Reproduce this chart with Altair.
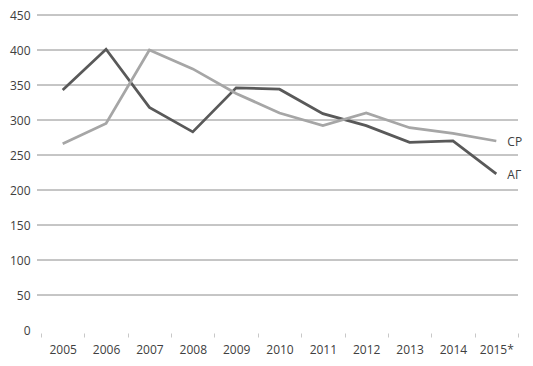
import altair as alt
import pandas as pd

years = ["2005", "2006", "2007", "2008", "2009", "2010", "2011", "2012", "2013", "2014", "2015*"]
ag = [343, 401, 318, 283, 346, 344, 309, 292, 268, 270, 223]
sr = [266, 295, 400, 373, 338, 310, 292, 310, 289, 281, 270]
series_names = ["АГ", "СР"]
series_colors = ["#595959", "#a6a6a6"]
y_ticks = [0, 50, 100, 150, 200, 250, 300, 350, 400, 450]
grid_values = [50, 100, 150, 200, 250, 300, 350, 400, 450]

rows = []
for i, y in enumerate(years):
    rows.append({"year": y, "series": "АГ", "value": ag[i]})
    rows.append({"year": y, "series": "СР", "value": sr[i]})
df = pd.DataFrame(rows)
last = df[df["year"] == years[-1]]
grid_df = pd.DataFrame({"value": grid_values})

yscale = alt.Scale(domain=[0, 450], nice=False)
xaxis = alt.Axis(labelAngle=0, domain=False, ticks=True, tickSize=4,
                 tickColor="#c8c8c8", tickBand="extent", offset=3,
                 labelPadding=7, labelFontSize=12, labelColor="#404040",
                 labelFont="Open Sans", grid=False, labelOverlap=False)
yaxis = alt.Axis(values=y_ticks, domain=False, ticks=False, grid=False,
                 labelPadding=11, labelFontSize=12, labelColor="#404040",
                 labelFont="Open Sans", labelOverlap=False)

x = alt.X("year:O", sort=years, title=None, axis=xaxis)
y = alt.Y("value:Q", title=None, scale=yscale, axis=yaxis)
color = alt.Color("series:N", scale=alt.Scale(domain=series_names, range=series_colors), legend=None)

grid = alt.Chart(grid_df).mark_rule(color="#8c8c8c", strokeWidth=1).encode(
    y=y, x=alt.value(-4), x2=alt.value(477))
lines = alt.Chart(df).mark_line(strokeWidth=2.75).encode(x=x, y=y, color=color)
labels = alt.Chart(last).mark_text(align="left", dx=11, dy=1, fontSize=12, font="Open Sans",
                                   color="#404040").encode(x=x, y=y, text="series:N")

chart = alt.layer(grid, lines, labels).properties(
    width=477, height=315,
    autosize=alt.AutoSizeParams(type="none"),
    padding={"left": 33, "top": 7, "right": 7, "bottom": 28},
).configure_view(stroke=None)

chart.save("out.html", embed_options={"renderer": "svg", "actions": False})
